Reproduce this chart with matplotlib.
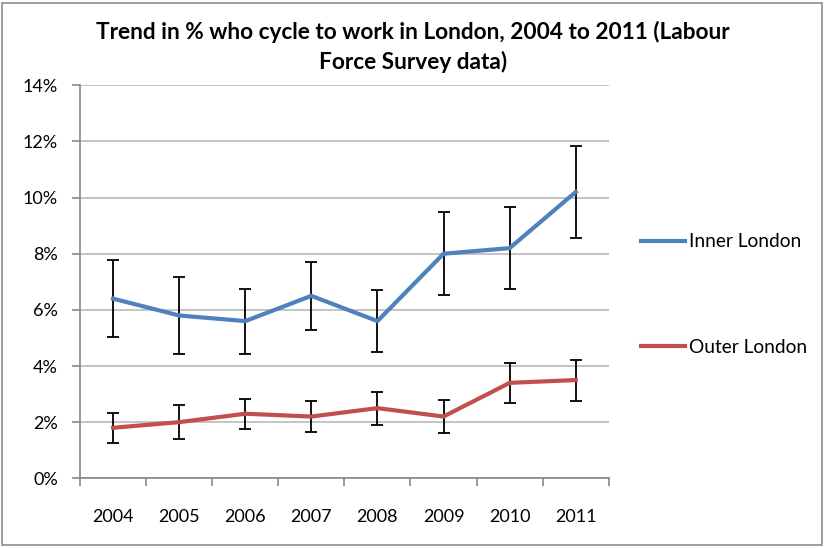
import matplotlib
matplotlib.use("Agg")
import matplotlib.pyplot as plt
from matplotlib.ticker import FuncFormatter, FixedLocator
from matplotlib.patches import Rectangle

# ---------------- DATA ----------------
years = ["2004", "2005", "2006", "2007", "2008", "2009", "2010", "2011"]
inner = [6.4, 5.8, 5.6, 6.5, 5.6, 8.0, 8.2, 10.2]
inner_err = [1.38, 1.36, 1.16, 1.22, 1.11, 1.48, 1.47, 1.63]
outer = [1.8, 2.0, 2.3, 2.2, 2.5, 2.2, 3.4, 3.5]
outer_err = [0.53, 0.6, 0.53, 0.54, 0.59, 0.59, 0.72, 0.73]

plt.rcParams["font.family"] = ["Lato", "DejaVu Sans"]

BLUE = "#4F81BD"
RED = "#C0504D"
GRID = "#BFBFBF"
AXIS = "#878787"

fig = plt.figure(figsize=(8.26, 5.48), dpi=100)
ax = fig.add_axes([0.0969, 0.1272, 0.6401, 0.7171])

x = list(range(len(years)))

ax.errorbar(x, inner, yerr=inner_err, color=BLUE, lw=3, ecolor="black",
            elinewidth=1.3, capsize=4, capthick=1.3, label="Inner London", zorder=3)
ax.errorbar(x, outer, yerr=outer_err, color=RED, lw=3, ecolor="black",
            elinewidth=1.3, capsize=4, capthick=1.3, label="Outer London", zorder=3)

ax.set_xlim(-0.5, len(years) - 0.5)
ax.set_ylim(0, 14)
ax.set_yticks(range(0, 15, 2))
ax.yaxis.set_major_formatter(FuncFormatter(lambda v, p: f"{int(v)}%"))
ax.set_xticks(x)
ax.set_xticklabels(years)
ax.xaxis.set_minor_locator(FixedLocator([i - 0.5 for i in range(len(years) + 1)]))

ax.tick_params(axis="x", which="major", length=0, pad=22, labelsize=13)
ax.tick_params(axis="x", which="minor", length=6, width=1.2, color=AXIS)
ax.tick_params(axis="y", length=6, width=1.2, color=AXIS, labelsize=13, pad=10)

ax.grid(axis="y", color=GRID, lw=1.3, zorder=0)
ax.set_axisbelow(True)
for side in ["top", "right"]:
    ax.spines[side].set_visible(False)
for side in ["left", "bottom"]:
    ax.spines[side].set_color(AXIS)
    ax.spines[side].set_linewidth(1.2)

fig.text(0.5, 0.962, "Trend in % who cycle to work in London, 2004 to 2011 (Labour\nForce Survey data)",
         ha="center", va="top", fontsize=16.3, fontweight="bold", linespacing=1.42)

handles, labels = ax.get_legend_handles_labels()
handles = [h[0] for h in handles]
fig.legend(handles, labels, loc="center left", bbox_to_anchor=(0.776, 0.4626),
           frameon=False, fontsize=13.8, handlelength=2.3, handletextpad=0.2,
           labelspacing=4.6, borderpad=0, borderaxespad=0)

fig.patches.append(Rectangle((0.003, 0.005), 0.992, 0.99, transform=fig.transFigure,
                             fill=False, edgecolor="#8C8C8C", lw=1.2))

fig.savefig("out.png", dpi=100)
